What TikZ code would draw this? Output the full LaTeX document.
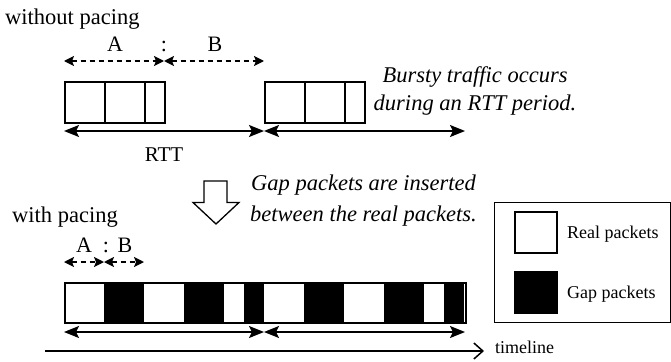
\documentclass[tikz,border=0pt]{standalone}
\usepackage{fontspec}
\setmainfont{Liberation Serif}
\usetikzlibrary{arrows.meta}
\begin{document}
\begin{tikzpicture}[x=1pt,y=-1pt,
  pkt/.style={draw=black,line width=1.6pt},
  big/.style={font=\fontsize{22.5}{27}\selectfont,inner sep=0pt},
  bigit/.style={font=\fontsize{22.5}{27}\selectfont\itshape,inner sep=0pt},
  lab/.style={font=\fontsize{21}{24}\selectfont,inner sep=0pt},
  abl/.style={font=\fontsize{22}{24}\selectfont,inner sep=0pt},
  small/.style={font=\fontsize{18}{22}\selectfont,inner sep=0pt},
  rtt/.style={line width=1.5pt,{Stealth[length=15pt,width=12pt,inset=3pt]}-{Stealth[length=15pt,width=12pt,inset=3pt]}},
  dash arrow/.style={line width=1.5pt,dash pattern=on 5pt off 4pt,{Stealth[length=10pt,width=10pt,inset=2pt]}-{Stealth[length=10pt,width=10pt,inset=2pt]}},
]
\useasboundingbox (0,0) rectangle (671,361);
% ---------- without pacing ----------
\node[big,anchor=base west] (wo) at (5,24.5) {without pacing};
\node[abl,anchor=base] (A1) at (115,52) {A};
\node[abl,anchor=base] (C1) at (164,52) {:};
\node[abl,anchor=base] (B1) at (215,52) {B};
\coordinate (d0) at (64,61);
\coordinate (d1) at (164,61);
\coordinate (d2) at (264,61);
\draw[dash arrow] (d0) -- (d1);
\draw[dash arrow] (d1) -- (d2);
% first burst
\node[pkt,minimum width=40pt,minimum height=41pt,inner sep=0pt,anchor=north west] (p1) at (64,81) {};
\node[pkt,minimum width=40pt,minimum height=41pt,inner sep=0pt,anchor=north west] (p2) at (104,81) {};
\node[pkt,minimum width=20pt,minimum height=41pt,inner sep=0pt,anchor=north west] (p3) at (144,81) {};
% second burst
\node[pkt,minimum width=40pt,minimum height=41pt,inner sep=0pt,anchor=north west] (q1) at (264,81) {};
\node[pkt,minimum width=40pt,minimum height=41pt,inner sep=0pt,anchor=north west] (q2) at (304,81) {};
\node[pkt,minimum width=20pt,minimum height=41pt,inner sep=0pt,anchor=north west] (q3) at (344,81) {};
\coordinate (r0) at (64,131);
\coordinate (r1) at (264,131);
\coordinate (r2) at (465,131);
\draw[rtt] (r0) -- (r1);
\draw[rtt] (r1) -- (r2);
\node[lab,anchor=base] (rttlab) at (164,161) {RTT};
\node[bigit,anchor=base] (bt1) at (475,82) {Bursty traffic occurs};
\node[bigit,anchor=base] (bt2) at (475,110) {during an RTT period.};
% ---------- hollow arrow ----------
\draw[line width=1.3pt,fill=white] (204,181) -- (227,181) -- (227,202.5) -- (239,202.5) -- (216,224) -- (193,202.5) -- (204,202.5) -- cycle;
\node[bigit,anchor=base west] (gp1) at (251,190.5) {Gap packets are inserted};
\node[bigit,anchor=base west] (gp2) at (250,221) {between the real packets.};
% ---------- with pacing ----------
\node[big,anchor=base west] (wp) at (12,222.5) {with pacing};
\node[abl,anchor=base] (A2) at (84,252) {A};
\node[abl,anchor=base] (C2) at (106,252) {:};
\node[abl,anchor=base] (B2) at (125,252) {B};
\coordinate (e0) at (64,262);
\coordinate (e1) at (104,262);
\coordinate (e2) at (144,262);
\draw[dash arrow] (e0) -- (e1);
\draw[dash arrow] (e1) -- (e2);
% paced bar
\foreach \o in {0,200}{
  \fill[black] (104+\o,282) rectangle (144+\o,322);
  \fill[black] (184+\o,282) rectangle (224+\o,322);
  \fill[black] (244+\o,282) rectangle (264+\o,322);
}
\node[draw=black,line width=1.6pt,minimum width=401pt,minimum height=40pt,inner sep=0pt,anchor=north west] (bar) at (64,282) {};
\coordinate (s0) at (64,332);
\coordinate (s1) at (264,332);
\coordinate (s2) at (465,332);
\draw[rtt] (s0) -- (s1);
\draw[rtt] (s1) -- (s2);
% timeline
\coordinate (t0) at (45,351);
\coordinate (t1) at (484,351);
\draw[line width=1.5pt,-{Straight Barb[length=9pt,width=16pt,line width=1.5pt]}] (t0) -- (t1);
\node[small,anchor=base west] (tl) at (495,353) {timeline};
% ---------- legend ----------
\node[draw=black,line width=1pt,minimum width=176pt,minimum height=120pt,inner sep=0pt,anchor=north west] (leg) at (494,202) {};
\node[draw=black,line width=1.6pt,fill=white,minimum width=42pt,minimum height=41pt,inner sep=0pt,anchor=north west] (lr) at (514,211) {};
\node[draw=black,line width=1.6pt,fill=black,minimum width=42pt,minimum height=41pt,inner sep=0pt,anchor=north west] (lg) at (514,271) {};
\node[small,anchor=base west] (lrt) at (567,238.5) {Real packets};
\node[small,anchor=base west] (lgt) at (567,298) {Gap packets};
\end{tikzpicture}
\end{document}
